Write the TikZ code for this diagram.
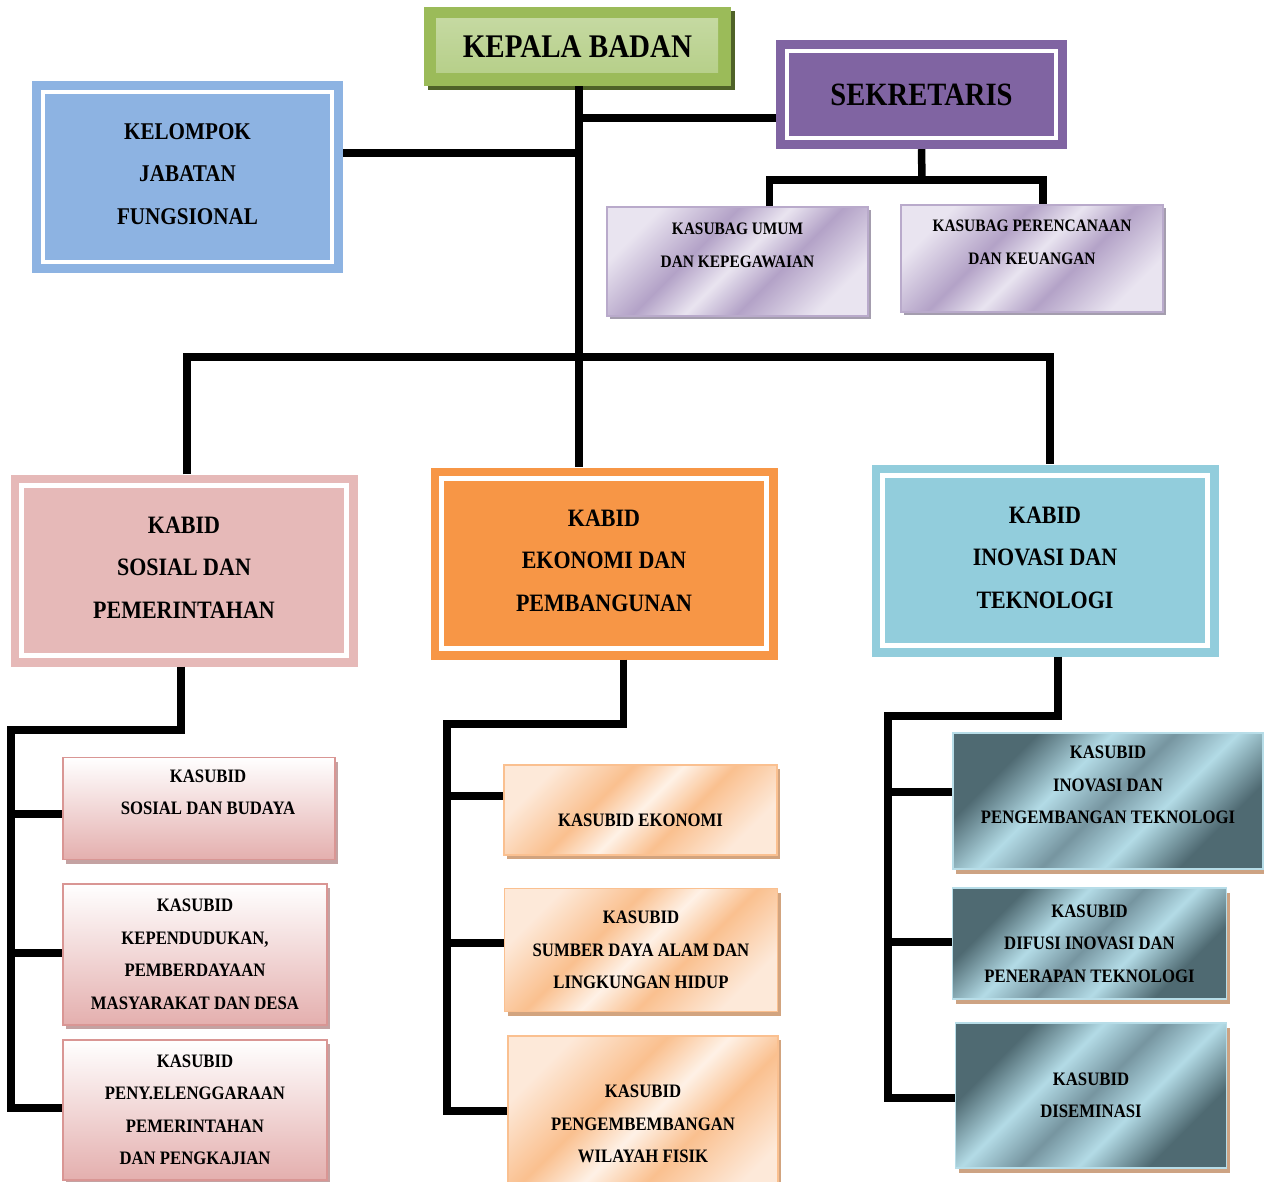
\documentclass[tikz,border=0pt]{standalone}
\usepackage{fontspec}
\newfontfamily\orgfont{Liberation Serif}[FakeStretch=0.88]
\usetikzlibrary{shadows}
\definecolor{kepgreen}{HTML}{9BBB59}
\definecolor{kepshadow}{HTML}{4F6228}
\definecolor{kepinnertop}{HTML}{C8DBA6}
\definecolor{kepinnerbot}{HTML}{B3CD84}
\definecolor{sekpurple}{HTML}{8064A2}
\definecolor{jabblue}{HTML}{8DB3E2}
\definecolor{sospink}{HTML}{E6B9B8}
\definecolor{ekoorange}{HTML}{F79646}
\definecolor{inocyan}{HTML}{92CDDC}
\definecolor{purpale}{HTML}{E9E4F0}
\definecolor{purband}{HTML}{B3A2C7}
\definecolor{purline}{HTML}{B9AACB}
\definecolor{purshadow}{HTML}{A49DAE}
\definecolor{orpale}{HTML}{FDE9D9}
\definecolor{orcentre}{HTML}{FEF1E6}
\definecolor{orband}{HTML}{FAC08F}
\definecolor{orline}{HTML}{FAC090}
\definecolor{orshadow}{HTML}{D2A47F}
\definecolor{pkband}{HTML}{E4AFAE}
\definecolor{pkline}{HTML}{D99694}
\definecolor{pkshadow}{HTML}{C4A2A2}
\definecolor{sldark}{HTML}{4F6A72}
\definecolor{slmid}{HTML}{7695A0}
\definecolor{sllight}{HTML}{B3DBE6}
\definecolor{slline}{HTML}{B7DDE8}
\definecolor{slshadow}{HTML}{CDA383}
% diagonal bands, used with shading angle=45
\pgfdeclareverticalshading{purshade}{100bp}{color(0bp)=(purpale); color(25bp)=(purpale);
  color(40bp)=(purband); color(50bp)=(purpale); color(60bp)=(purband);
  color(75bp)=(purpale); color(100bp)=(purpale)}
\pgfdeclareverticalshading{orshade}{100bp}{color(0bp)=(orpale); color(25bp)=(orpale);
  color(40bp)=(orband); color(50bp)=(orcentre); color(60bp)=(orband);
  color(75bp)=(orpale); color(100bp)=(orpale)}
\pgfdeclareverticalshading{slshade}{100bp}{color(0bp)=(sldark); color(28bp)=(sldark);
  color(40bp)=(sllight); color(50bp)=(slmid); color(60bp)=(sllight);
  color(72bp)=(sldark); color(100bp)=(sldark)}
\tikzset{
  conn/.style={draw=black,line width=7.5pt},
  heading/.style={inner sep=0pt,align=center,text=black},
  framed/.style={heading,fill=#1,
    path picture={\draw[white,line width=4.5pt]
      ([shift={(11pt,-11pt)}]path picture bounding box.north west) rectangle
      ([shift={(-11pt,11pt)}]path picture bounding box.south east);}},
  kepala/.style={heading,fill=kepgreen,minimum width=307pt,minimum height=79pt,
    font=\orgfont\bfseries\fontsize{33}{40}\selectfont,
    drop shadow={shadow xshift=4pt,shadow yshift=-4pt,fill=kepshadow,opacity=1},
    path picture={\shade[top color=kepinnertop,bottom color=kepinnerbot]
      ([shift={(12pt,-12pt)}]path picture bounding box.north west) rectangle
      ([shift={(-13pt,13pt)}]path picture bounding box.south east);}},
  kabid/.style={framed=#1,minimum width=347pt,minimum height=192pt,
    font=\orgfont\bfseries\fontsize{25}{42.5}\selectfont},
  subbase/.style={heading,line width=1.5pt,
    font=\orgfont\bfseries\fontsize{19}{32.5}\selectfont},
  kasubag/.style={subbase,draw=purline,shade,shading=purshade,shading angle=45,
    font=\orgfont\bfseries\fontsize{17.5}{33}\selectfont,
    drop shadow={shadow xshift=3pt,shadow yshift=-3pt,fill=purshadow,opacity=1}},
  pinkbox/.style={subbase,draw=pkline,top color=white,bottom color=pkband,
    drop shadow={shadow xshift=3pt,shadow yshift=-4pt,fill=pkshadow,opacity=1}},
  orangebox/.style={subbase,draw=orline,shade,shading=orshade,shading angle=45,
    drop shadow={shadow xshift=3pt,shadow yshift=-4pt,fill=orshadow,opacity=1}},
  slatebox/.style={subbase,draw=slline,shade,shading=slshade,shading angle=45,
    drop shadow={shadow xshift=3pt,shadow yshift=-5pt,fill=slshadow,opacity=1}},
}
\begin{document}
\begin{tikzpicture}[x=1pt,y=-1pt]
  \path[fill=white,use as bounding box] (0,0) rectangle (1264,1182);
  \clip (0,0) rectangle (1264,1182);

  % top of the chart
  \node[kepala] (kepala) at (577.5,46.5) {KEPALA BADAN};
  \node[framed=sekpurple,minimum width=291pt,minimum height=109pt,
        font=\orgfont\bfseries\fontsize{32.5}{40}\selectfont] (sekretaris) at (921.5,94.5) {SEKRETARIS};
  \node[framed=jabblue,minimum width=311pt,minimum height=192pt,
        font=\orgfont\bfseries\fontsize{24}{42.5}\selectfont] (kelompok) at (187.5,177)
        {KELOMPOK\\JABATAN\\FUNGSIONAL\\[-36pt]\mbox{}};
  \node[kasubag,minimum width=261pt,minimum height=109pt] (umum) at (737.5,261.5)
        {KASUBAG UMUM\\DAN KEPEGAWAIAN\\\mbox{}};
  \node[kasubag,minimum width=262pt,minimum height=107pt] (rencana) at (1032,258.5)
        {KASUBAG PERENCANAAN\\DAN KEUANGAN\\\mbox{}};

  % the three fields
  \node[kabid=sospink]   (sosial)  at (184,570.5) {KABID\\SOSIAL DAN\\PEMERINTAHAN\\[-36pt]\mbox{}};
  \node[kabid=ekoorange] (ekonomi) at (604,563.5) {KABID\\EKONOMI DAN\\PEMBANGUNAN\\[-36pt]\mbox{}};
  \node[kabid=inocyan]   (inovasi) at (1045,560.5) {KABID\\INOVASI DAN\\TEKNOLOGI\\[-36pt]\mbox{}};

  % sub fields
  \node[pinkbox,minimum width=272pt,minimum height=102pt] (sos1) at (199,808.5)
        {\hspace*{18pt}KASUBID\\\hspace*{18pt}SOSIAL DAN BUDAYA\\\mbox{}};
  \node[pinkbox,minimum width=264pt,minimum height=141pt] (sos2) at (195,954.5)
        {KASUBID\\KEPENDUDUKAN,\\PEMBERDAYAAN\\MASYARAKAT DAN DESA};
  \node[pinkbox,minimum width=264pt,minimum height=140pt] (sos3) at (195,1110)
        {KASUBID\\PENY.ELENGGARAAN\\PEMERINTAHAN\\DAN PENGKAJIAN};
  \node[orangebox,minimum width=273pt,minimum height=90pt] (eko1) at (640.5,810)
        {\mbox{}\\KASUBID EKONOMI};
  \node[orangebox,minimum width=273pt,minimum height=123pt] (eko2) at (641,950)
        {KASUBID\\SUMBER DAYA ALAM DAN\\LINGKUNGAN HIDUP};
  \node[orangebox,minimum width=270pt,minimum height=176pt] (eko3) at (643,1124)
        {KASUBID\\PENGEMBEMBANGAN\\WILAYAH FISIK};
  \node[slatebox,minimum width=310pt,minimum height=136pt] (ino1) at (1108,801)
        {KASUBID\\INOVASI DAN\\PENGEMBANGAN TEKNOLOGI\\\mbox{}};
  \node[slatebox,minimum width=274pt,minimum height=111pt] (ino2) at (1089.5,943.5)
        {KASUBID\\DIFUSI INOVASI DAN\\PENERAPAN TEKNOLOGI};
  \node[slatebox,minimum width=271pt,minimum height=145pt] (ino3) at (1091,1095.5)
        {KASUBID\\DISEMINASI};

  % connectors
  \coordinate (bus) at (579,357);
  \coordinate (sekj) at (579,118);
  \coordinate (kelj) at (579,153);
  \coordinate (sekbus) at (922,180);
  \draw[conn] (kepala.south -| bus) -- (bus) -- (bus |- ekonomi.north);
  \draw[conn] (sekj) -- (sekj -| sekretaris.west);
  \draw[conn] (kelompok.east |- kelj) -- (kelj);
  \draw[conn] ([xshift=3pt]sosial.north) |- (bus) -| ([xshift=5pt]inovasi.north);
  \draw[conn] (sekretaris.south) -- (sekbus);
  \draw[conn] ([xshift=32pt]umum.north) |- (sekbus) -| ([xshift=11pt]rencana.north);

  \coordinate (lbus) at (11,730);
  \coordinate (lb1) at (11,814);
  \coordinate (lb2) at (11,953);
  \coordinate (lb3) at (11,1108);
  \draw[conn] ([xshift=-3pt]sosial.south) |- (lbus) -- (lb3) -- (lb3 -| sos3.west);
  \draw[conn] (lb1) -- (lb1 -| sos1.west);
  \draw[conn] (lb2) -- (lb2 -| sos2.west);

  \coordinate (mbus) at (447,724);
  \coordinate (mb1) at (447,796);
  \coordinate (mb2) at (447,943);
  \coordinate (mb3) at (447,1111);
  \draw[conn] ([xshift=19.5pt]ekonomi.south) |- (mbus) -- (mb3) -- (mb3 -| eko3.west);
  \draw[conn] (mb1) -- (mb1 -| eko1.west);
  \draw[conn] (mb2) -- (mb2 -| eko2.west);

  \coordinate (rbus) at (888,716);
  \coordinate (rb1) at (888,792);
  \coordinate (rb2) at (888,942);
  \coordinate (rb3) at (888,1098);
  \draw[conn] ([xshift=13pt]inovasi.south) |- (rbus) -- (rb3) -- (rb3 -| ino3.west);
  \draw[conn] (rb1) -- (rb1 -| ino1.west);
  \draw[conn] (rb2) -- (rb2 -| ino2.west);
\end{tikzpicture}
\end{document}
